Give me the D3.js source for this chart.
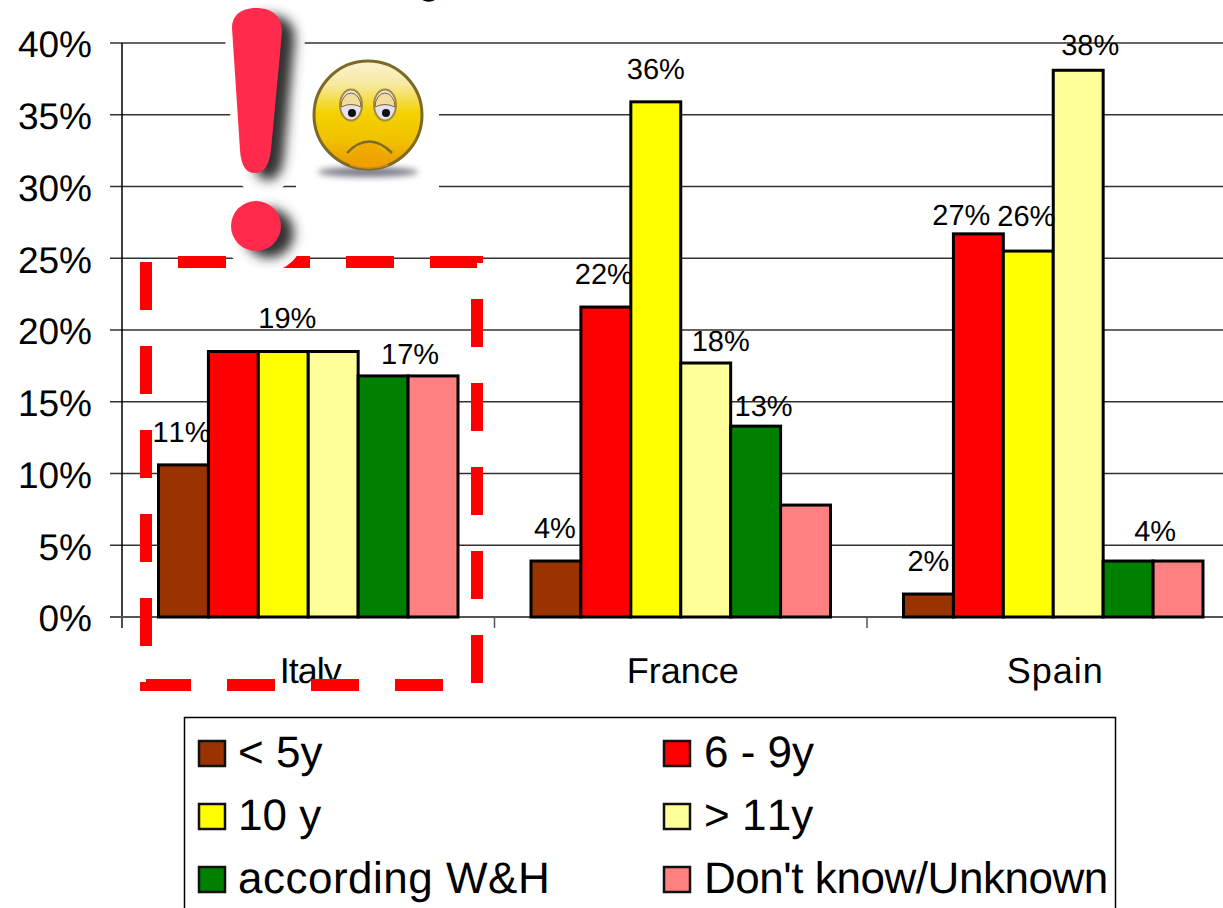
<!DOCTYPE html>
<html>
<head>
<meta charset="utf-8">
<script src="https://cdn.jsdelivr.net/npm/d3@7"></script>
<style>
    body { margin: 0; background: #fff; }
    text { font-family: "Liberation Sans", Arial, sans-serif; fill: #000; text-rendering: geometricPrecision; font-kerning: none; }
</style>
</head>
<body>
<div id="chart"></div>
<script>
let categories = ["Italy", "France", "Spain"];
let seriesNames = ["< 5y", "6 - 9y", "10 y", "> 11y", "according W&H", "Don't know/Unknown"];
let seriesColors = ["#993300", "#ff0000", "#ffff00", "#ffff99", "#008000", "#ff8080"];

let under5 = [10.6, 3.9, 1.6];
let sixToNine = [18.5, 21.6, 26.7];
let ten = [18.5, 35.9, 25.5];
let over11 = [18.5, 17.7, 38.1];
let accordingWH = [16.8, 13.3, 3.9];
let unknown = [16.8, 7.8, 3.9];
let seriesValues = [under5, sixToNine, ten, over11, accordingWH, unknown];

// only some bars carry a label in the original
let under5Labels = ["11%", "4%", "2%"];
let sixToNineLabels = ["", "22%", "27%"];
let tenLabels = ["19%", "36%", "26%"];
let over11Labels = ["", "18%", "38%"];
let accordingWHLabels = ["17%", "13%", "4%"];
let unknownLabels = ["", "", ""];
let seriesLabels = [under5Labels, sixToNineLabels, tenLabels, over11Labels, accordingWHLabels, unknownLabels];

let yTicks = [0, 5, 10, 15, 20, 25, 30, 35, 40];

// hand moved labels: [dx, gap above bar] by series then category
let labelNudge = [
    [[-2, 23], [-1, 23], [0, 23]],
    [[0, 0], [-2, 23], [-17, 9]],
    [[4, 24], [0, 23], [-2, 25]],
    [[0, 0], [15, 12], [12, 15]],
    [[27, 12], [8, 10], [27, 20]],
    [[0, 0], [0, 0], [0, 0]]
];
// the text in the picture is a bit wider or narrower than the font here
let categorySpacing = [-1, 0, 1];
let legendSpacing = [0, 0, 0, 0.1, 0.5, -0.45];

let svg = d3.select("#chart").append("svg")
    .attr("width", 1223)
    .attr("height", 908)
    .style("display", "block");

let y = d3.scaleLinear().domain([0, 40]).range([617, 43]);
let x0 = d3.scaleBand().domain(categories).range([122, 1239.5]);
let x1 = d3.scaleBand().domain(d3.range(seriesNames.length)).range([36.5, 336]);

// title is cut off by the top of the picture, only the tail of a g shows
svg.append("text").attr("x", 429).attr("y", -6)
    .attr("text-anchor", "middle")
    .style("font-size", "36px").style("font-weight", "bold")
    .text("g");

// gridlines
svg.append("g").selectAll("line")
    .data(yTicks.slice(1))
    .enter().append("line")
    .attr("x1", 110).attr("x2", 1223)
    .attr("y1", function (d) { return y(d); })
    .attr("y2", function (d) { return y(d); })
    .attr("stroke", "#333").attr("stroke-width", 1.4);

// y axis
let yAxis = svg.append("g").attr("transform", "translate(122, 0)")
    .call(d3.axisLeft(y).tickValues(yTicks).tickFormat(function (d) { return d + "%"; }).tickSize(0).tickPadding(30));
yAxis.select(".domain").remove();
yAxis.selectAll("text").style("font-size", "37px").attr("transform", "translate(0, 2)");
svg.append("line").attr("x1", 122).attr("x2", 122).attr("y1", 43).attr("y2", 628)
    .attr("stroke", "#000").attr("stroke-width", 1.5);

// x axis
svg.append("line").attr("x1", 110).attr("x2", 1223).attr("y1", y(0)).attr("y2", y(0))
    .attr("stroke", "#555").attr("stroke-width", 2);
svg.append("g").selectAll("line")
    .data(categories)
    .enter().append("line")
    .attr("x1", function (d) { return x0(d); })
    .attr("x2", function (d) { return x0(d); })
    .attr("y1", y(0)).attr("y2", 628)
    .attr("stroke", "#555").attr("stroke-width", 1.5);
let xAxis = svg.append("g").attr("transform", "translate(2, " + y(0) + ")")
    .call(d3.axisBottom(x0).tickSize(0).tickPadding(40));
xAxis.select(".domain").remove();
xAxis.selectAll("text").style("font-size", "36px")
    .style("letter-spacing", function (d, i) { return categorySpacing[i] + "px"; });

// bars
seriesValues.forEach(function (values, s) {
    svg.append("g").selectAll("rect")
        .data(values)
        .enter().append("rect")
        .attr("x", function (d, i) { return x0(categories[i]) + x1(s); })
        .attr("y", function (d) { return y(d); })
        .attr("width", x1.bandwidth())
        .attr("height", function (d) { return y(0) - y(d); })
        .attr("fill", seriesColors[s])
        .attr("stroke", "#000")
        .attr("stroke-width", 3);
});

// data labels
seriesLabels.forEach(function (labels, s) {
    svg.append("g").selectAll("text")
        .data(labels)
        .enter().append("text")
        .attr("x", function (d, i) { return x0(categories[i]) + x1(s) + x1.bandwidth() / 2 + labelNudge[s][i][0]; })
        .attr("y", function (d, i) { return y(seriesValues[s][i]) - labelNudge[s][i][1]; })
        .attr("text-anchor", "middle")
        .style("font-size", "29px")
        .text(function (d) { return d; });
});

// legend, runs off the bottom of the picture
svg.append("rect").attr("x", 184.5).attr("y", 717.5).attr("width", 931).attr("height", 220)
    .attr("fill", "#fff").attr("stroke", "#000").attr("stroke-width", 1.5);
let legendX = d3.scaleOrdinal().domain([0, 1]).range([198, 663]);
let legendY = d3.scaleOrdinal().domain([0, 1, 2]).range([767, 830, 893]);
let legend = svg.append("g").selectAll("g")
    .data(seriesNames)
    .enter().append("g")
    .attr("transform", function (d, i) {
        return "translate(" + legendX(i % 2) + ", " + legendY(Math.floor(i / 2)) + ")";
    });
legend.append("rect")
    .attr("x", 1).attr("y", -26).attr("width", 26).attr("height", 25)
    .attr("fill", function (d, i) { return seriesColors[i]; })
    .attr("stroke", "#111").attr("stroke-width", 2.5);
legend.append("text")
    .attr("x", function (d, i) { return i % 2 ? 41 : 40; })
    .attr("y", 0)
    .style("font-size", "44px")
    .style("letter-spacing", function (d, i) { return legendSpacing[i] + "px"; })
    .text(function (d) { return d; });

// red dashed box round Italy
svg.append("rect").attr("x", 146).attr("y", 262).attr("width", 331).attr("height", 423)
    .attr("fill", "none").attr("stroke", "#ff0000").attr("stroke-width", 12)
    .attr("stroke-dasharray", "48 36").attr("stroke-dashoffset", 52);

// pasted pictures on top: exclamation mark and sad face
let defs = svg.append("defs");
defs.append("filter").attr("id", "soft").attr("x", "-30%").attr("y", "-30%").attr("width", "160%").attr("height", "160%")
    .append("feGaussianBlur").attr("stdDeviation", 6);
defs.append("filter").attr("id", "softer").attr("x", "-30%").attr("y", "-100%").attr("width", "160%").attr("height", "300%")
    .append("feGaussianBlur").attr("stdDeviation", 3);
let faceGrad = defs.append("linearGradient").attr("id", "face").attr("x1", 0).attr("y1", 0).attr("x2", 0).attr("y2", 1);
faceGrad.append("stop").attr("offset", "0%").attr("stop-color", "#fbf3cf");
faceGrad.append("stop").attr("offset", "22%").attr("stop-color", "#f6e9a0");
faceGrad.append("stop").attr("offset", "48%").attr("stop-color", "#f4d200");
faceGrad.append("stop").attr("offset", "75%").attr("stop-color", "#f0c000");
faceGrad.append("stop").attr("offset", "100%").attr("stop-color", "#e89400");

let barShape = "M232,28 C232,14 243,8 256,8 C272,8 282,16 282,32 L271,150 C269,166 264,173 255,173 C246,173 241,166 240,150 Z";
let mark = svg.append("g");
let drawBang = function (g) {
    g.append("path").attr("d", barShape);
    g.append("circle").attr("cx", 256).attr("cy", 226).attr("r", 25);
};
mark.append("rect").attr("x", 296).attr("y", 50).attr("width", 143).attr("height", 145).attr("fill", "#fff");
let halo = mark.append("g").attr("transform", "translate(8, 7)")
    .attr("fill", "#fff").attr("stroke", "#fff").attr("stroke-width", 30).attr("stroke-linejoin", "round");
drawBang(halo);
let shade = mark.append("g").attr("transform", "translate(13, 7)")
    .attr("fill", "#333").attr("filter", "url(#soft)");
drawBang(shade);
let bang = mark.append("g").attr("fill", "#ff2a4c");
drawBang(bang);

let face = svg.append("g");
face.append("ellipse").attr("cx", 368).attr("cy", 172).attr("rx", 50).attr("ry", 5)
    .attr("fill", "#777785").attr("filter", "url(#softer)");
face.append("circle").attr("cx", 368).attr("cy", 115).attr("r", 54)
    .attr("fill", "url(#face)").attr("stroke", "#7d6a28").attr("stroke-width", 3);
[351, 385].forEach(function (ex) {
    face.append("ellipse").attr("cx", ex).attr("cy", 105).attr("rx", 11).attr("ry", 15.5)
        .attr("fill", "#e6e0f0").attr("stroke", "#a08c3c").attr("stroke-width", 2);
    face.append("path")
        .attr("d", "M" + (ex - 10) + ",107 A10,14 0 0 1 " + (ex + 10) + ",107 Q" + ex + ",102 " + (ex - 10) + ",107 Z")
        .attr("fill", "#f3dca0").attr("stroke", "#7d6a28").attr("stroke-width", 1);
    face.append("circle").attr("cx", ex + 1).attr("cy", 113).attr("r", 4).attr("fill", "#111");
});
face.append("path").attr("d", "M350,166 Q351,146 368,142 Q386,146 388,166 Q368,172 350,166 Z")
    .attr("fill", "#f0a400").attr("opacity", 0.6);
face.append("path").attr("d", "M347,153 Q369,130 392,153")
    .attr("fill", "none").attr("stroke", "#7d6a28").attr("stroke-width", 2.5);
</script>
</body>
</html>
